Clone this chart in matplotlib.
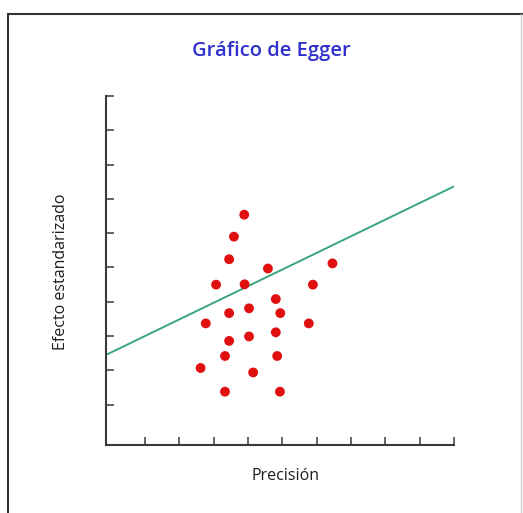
import matplotlib
matplotlib.use("Agg")
import matplotlib.pyplot as plt
from matplotlib.lines import Line2D

# datos del grafico de Egger
precision = [3.89, 3.59, 3.45, 4.58, 6.46, 3.07, 3.90, 5.89, 4.81, 4.03, 3.45, 4.94,
             2.77, 5.77, 4.81, 4.03, 3.45, 3.33, 4.85, 2.62, 4.15, 3.33, 4.93]
efecto = [6.54, 5.90, 5.24, 4.97, 5.12, 4.50, 4.51, 4.50, 4.08, 3.81, 3.67, 3.67,
          3.37, 3.37, 3.11, 2.99, 2.86, 2.42, 2.42, 2.07, 1.94, 1.38, 1.38]

# recta de regresion (extremos)
recta_x = [-0.14, 9.97]
recta_y = [2.45, 7.35]

ticks = [1, 2, 3, 4, 5, 6, 7, 8, 9, 10]

W, H = 523, 513
plt.rcParams['font.family'] = ['Open Sans', 'DejaVu Sans']
fig = plt.figure(figsize=(W / 100, H / 100), dpi=100)
ax = fig.add_axes([106 / W, 1 - 445 / H, (454 - 106) / W, (445 - 96) / H])

ax.plot(recta_x, recta_y, color="#3aa57e", lw=1.4, zorder=2)
ax.scatter(precision, efecto, s=50, color="#e01010", edgecolors="none", zorder=3)

ax.set_xlim(-0.136, 10)
ax.set_ylim(-0.175, 10)
ax.set_xticks(ticks)
ax.set_yticks(ticks)
ax.set_xticklabels([])
ax.set_yticklabels([])
ax.tick_params(direction="in", length=5.5, width=1.1, color="#3a3a3a")
for s in ["top", "right"]:
    ax.spines[s].set_visible(False)
for s in ["left", "bottom"]:
    ax.spines[s].set_linewidth(1.5)
    ax.spines[s].set_color("#3a3a3a")

fig.text(271 / W, 1 - 51 / H, "Gráfico de Egger", color="#3030cc", fontsize=14.5,
         fontweight="semibold", ha="center", va="center")
fig.text(285.5 / W, 1 - 476 / H, "Precisión", color="#1e1e1e", fontsize=11.5,
         ha="center", va="center")
fig.text(61 / W, 1 - 272 / H, "Efecto estandarizado", color="#1e1e1e", fontsize=11.5,
         ha="center", va="center", rotation=90)

# marco exterior
fig.add_artist(Line2D([8 / W, 8 / W], [0, 1 - 14 / H], transform=fig.transFigure,
                      color="#333333", lw=1.5))
fig.add_artist(Line2D([8 / W, 1], [1 - 14 / H, 1 - 14 / H], transform=fig.transFigure,
                      color="#333333", lw=1.5))
fig.add_artist(Line2D([521 / W, 521 / W], [0, 1 - 14 / H], transform=fig.transFigure,
                      color="#cccccc", lw=1))

fig.savefig("out.png", dpi=100)
